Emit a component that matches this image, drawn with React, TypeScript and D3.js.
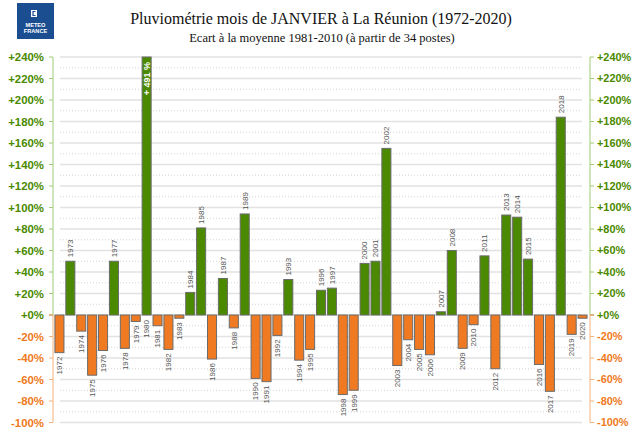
import * as d3 from "d3";

const years = d3.range(1972, 2021);
const ecarts = [
  -35, 50, -15, -56, -33, 50, -31, -6, 491, -10,
  -32, -3, 21, 81, -41, 34, -12, 94, -59, -62,
  -19, 33, -42, -32, 23, 25, -74, -70, 48, 50,
  155, -47, -23, -32, -37, 3, 60, -31, -9, 55,
  -50, 93, 91, 52, -46, -71, 184, -18, -3,
];
const tickValues = [-100, -80, -60, -40, -20, 0, 20, 40, 60, 80, 100, 120, 140, 160, 180, 200, 220, 240];
const minorTicks = [-90, -70, -50, -30, -10, 10, 30, 50, 70, 90, 110, 130, 150, 170, 190, 210, 230];

const W = 632;
const H = 431;
const axisLeft = 53;
const axisRight = 590;
const green = "#4b8a00";
const orange = "#ef7a22";
const sans = "'Liberation Sans', Arial, sans-serif";

export default function App() {
  const x = d3.scaleBand<number>().domain(years).range([54, 588]).paddingInner(0.17).paddingOuter(0.085);
  const y = d3.scaleLinear().domain([-100, 240]).range([422.5, 57]);
  const y0 = y(0);
  const yMax = y(240);
  const fmt = (v: number) => (v >= 0 ? `+${v}%` : `${v}%`);
  const tickColor = (v: number) => (v >= 0 ? green : orange);

  return (
    <svg width={W} height={H} style={{ position: "absolute", left: 0, top: 0, background: "#fff" }}>
      {/* logo */}
      <g>
        <rect x={17} y={3} width={37} height={36} fill="#1b4d91" />
        <rect x={31} y={10} width={6} height={7} fill="#fff" />
        <path d="M35.5,11.5 h-2.5 v4 h2.5" fill="none" stroke="#1b4d91" strokeWidth={1.2} />
        <text x={35.5} y={26.5} textAnchor="middle" fontFamily={sans} fontWeight="bold" fontSize={5.6} fill="#fff">METEO</text>
        <text x={35.5} y={32.5} textAnchor="middle" fontFamily={sans} fontWeight="bold" fontSize={5.6} fill="#fff">FRANCE</text>
      </g>

      <text x={321} y={24} textAnchor="middle" fontFamily="'Liberation Serif', 'Times New Roman', serif" fontSize={16} fill="#111">
        Pluviométrie mois de JANVIER à La Réunion (1972-2020)
      </text>
      <text x={322} y={42} textAnchor="middle" fontFamily="'Liberation Serif', 'Times New Roman', serif" fontSize={12.5} fill="#111">
        Ecart à la moyenne 1981-2010 (à partir de 34 postes)
      </text>

      {/* grid */}
      <g>
        {minorTicks.map((t) => (
          <line key={"m" + t} x1={60} x2={582} y1={y(t)} y2={y(t)} stroke="#d4d4d4" strokeWidth={1} strokeDasharray="1,2" />
        ))}
        {tickValues.map((t) => (
          <line key={"g" + t} x1={60} x2={582} y1={y(t)} y2={y(t)} stroke="#e2e2e2" strokeWidth={1.3} />
        ))}
      </g>

      {/* axes */}
      {[axisLeft, axisRight].map((ax, i) => (
        <g key={ax}>
          <line x1={ax} x2={ax} y1={yMax} y2={y0} stroke="#9fcc74" strokeWidth={1} />
          <line x1={ax} x2={ax} y1={y0} y2={y(-100)} stroke="#f6b27c" strokeWidth={1} />
          {tickValues.map((t) => (
            <g key={t}>
              <line
                x1={i === 0 ? ax - 4 : ax}
                x2={i === 0 ? ax : ax + 4}
                y1={y(t)}
                y2={y(t)}
                stroke={t === 0 ? "#d9b27e" : t > 0 ? "#9fcc74" : "#f6b27c"}
                strokeWidth={t === 0 ? 2 : 1}
              />
              <text
                x={i === 0 ? ax - 9 : ax + 7}
                y={y(t)}
                dy="0.36em"
                textAnchor={i === 0 ? "end" : "start"}
                fontFamily={sans}
                fontWeight="bold"
                fontSize={i === 0 ? 11.4 : 10.9}
                fill={tickColor(t)}
              >
                {fmt(t)}
              </text>
            </g>
          ))}
        </g>
      ))}

      {/* bars */}
      {years.map((yr, i) => {
        const v = ecarts[i];
        const vc = Math.min(v, 240);
        const bx = x(yr)!;
        const bw = x.bandwidth();
        const cx = bx + bw / 2;
        const top = v >= 0 ? y(vc) : y0;
        const h = Math.abs(y(vc) - y0);
        const clipped = v > 240;
        let label;
        if (v >= 0 && !clipped) {
          label = (
            <text transform={`translate(${cx},${top - 4}) rotate(-90)`} dy="0.35em" textAnchor="start" fontFamily={sans} fontSize={8} fill="#555">
              {yr}
            </text>
          );
        } else {
          const by = clipped ? y0 + 5 : y0 + h + 4;
          label = (
            <text transform={`translate(${cx},${by}) rotate(-90)`} dy="0.35em" textAnchor="end" fontFamily={sans} fontSize={8} fill="#555">
              {yr}
            </text>
          );
        }
        return (
          <g key={yr}>
            <rect x={bx} y={top} width={bw} height={h} fill={v >= 0 ? green : orange} stroke="#6b6b6b" strokeWidth={1} />
            {label}
            {clipped && (
              <text transform={`translate(${cx},${yMax + 5}) rotate(-90)`} dy="0.35em" textAnchor="end" fontFamily={sans} fontWeight="bold" fontSize={9} fill="#fff">
                {`+ ${v} %`}
              </text>
            )}
          </g>
        );
      })}
    </svg>
  );
}
